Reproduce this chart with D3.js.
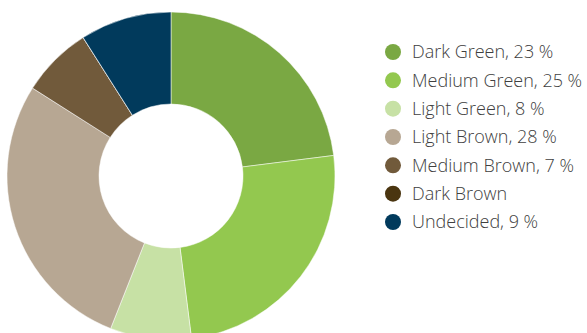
<!DOCTYPE html>
<html>
<head>
<meta charset="utf-8">
<script src="https://cdn.jsdelivr.net/npm/d3@7"></script>
<style>
  html, body { margin: 0; padding: 0; background: #fff; }
  svg { display: block; }
  text { font-family: "Open Sans", sans-serif; }
</style>
</head>
<body>
<svg id="chart" width="587" height="333"></svg>
<script>
const categories = ["Dark Green", "Medium Green", "Light Green", "Light Brown", "Medium Brown", "Dark Brown", "Undecided"];
const values = [23, 25, 8, 28, 7, 0, 9];
const legendLabels = ["Dark Green, 23 %", "Medium Green, 25 %", "Light Green, 8 %", "Light Brown, 28 %", "Medium Brown, 7 %", "Dark Brown", "Undecided, 9 %"];
const colors = ["#7aa843", "#93c84f", "#c7e1a5", "#b7a793", "#715a3b", "#4a3510", "#013a5c"];

const svg = d3.select("#chart");
const cx = 171, cy = 176, outerR = 164, innerR = 72;

const color = d3.scaleOrdinal().domain(categories).range(colors);
const data = categories.map((c, i) => ({ cat: c, value: values[i] }));

const pie = d3.pie().value(d => d.value).sort(null);
const arc = d3.arc().innerRadius(innerR).outerRadius(outerR);

svg.append("g")
  .attr("transform", `translate(${cx},${cy})`)
  .selectAll("path")
  .data(pie(data))
  .join("path")
  .attr("d", arc)
  .attr("fill", d => color(d.data.cat))
  .attr("stroke", "#fff")
  .attr("stroke-width", 0.5);

const y = d3.scalePoint().domain(categories).range([52, 222]);

const lg = svg.append("g");
const rows = lg.selectAll("g").data(categories).join("g")
  .attr("transform", d => `translate(0,${y(d)})`);
rows.append("circle").attr("cx", 393).attr("cy", 0).attr("r", 8)
  .attr("fill", d => color(d));
rows.append("text").attr("x", 412).attr("y", 0).attr("dy", "0.35em")
  .attr("font-size", 18).attr("font-weight", 300).attr("fill", "#404040")
  .text((d, i) => legendLabels[i]);
</script>
</body>
</html>
